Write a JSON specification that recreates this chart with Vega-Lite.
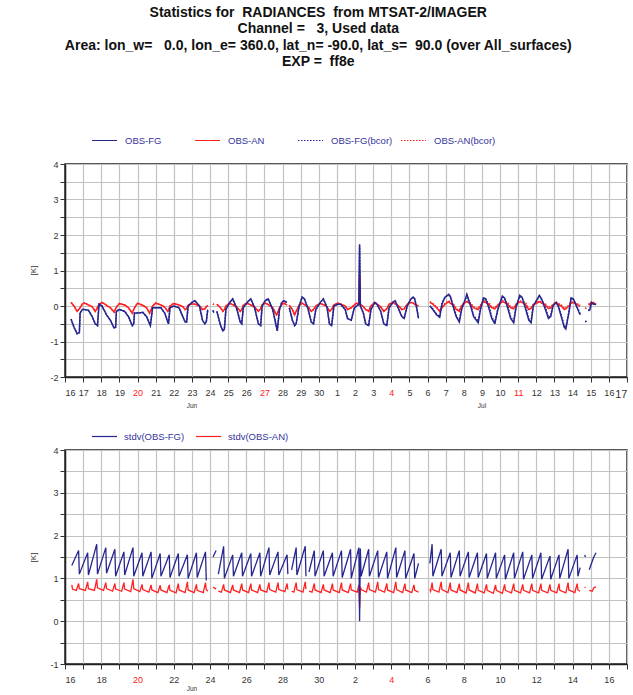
{
"$schema": "https://vega.github.io/schema/vega-lite/v6.json",
"padding": {"left": 28, "top": 6, "right": 0, "bottom": 0},
"background": "white",
"title": {"text": ["Statistics for \u00a0RADIANCES \u00a0from MTSAT-2/IMAGER", "Channel = \u00a0\u00a03, Used data", "Area: lon_w= \u00a0\u00a00.0, lon_e= 360.0, lat_n= -90.0, lat_s= \u00a090.0 (over All_surfaces)", "EXP = \u00a0ff8e"], "anchor": "middle", "font": "Liberation Sans", "fontSize": 14, "fontWeight": "bold", "lineHeight": 16.4, "color": "#111111", "offset": 57, "dx": -10},
"datasets": {
"top": [
{"h":8,"F":-0.37,"A":0.1,"Fb":-0.37,"Ab":0.1},{"h":12,"F":-0.6,"A":0.0,"Fb":-0.6,"Ab":0.0},{"h":16,"F":-0.78,"A":-0.15,"Fb":-0.78,"Ab":-0.15},{"h":19,"F":-0.75,"A":-0.08,"Fb":-0.75,"Ab":-0.08},{"h":20,"F":-0.2,"A":-0.05,"Fb":-0.2,"Ab":-0.05},{"h":23,"F":-0.1,"A":0.06,"Fb":-0.1,"Ab":0.06},
{"h":26,"F":-0.1,"A":0.08,"Fb":-0.1,"Ab":0.08},{"h":31,"F":-0.12,"A":0.03,"Fb":-0.12,"Ab":0.03},{"h":36,"F":-0.3,"A":-0.02,"Fb":-0.3,"Ab":-0.02},{"h":40,"F":-0.5,"A":-0.15,"Fb":-0.5,"Ab":-0.15},{"h":43,"F":-0.55,"A":-0.05,"Fb":-0.55,"Ab":-0.05},{"h":45,"F":0.05,"A":0.05,"Fb":0.05,"Ab":0.05},
{"h":49,"F":0.0,"A":0.1,"Fb":0.0,"Ab":0.1},{"h":55,"F":-0.25,"A":0.02,"Fb":-0.25,"Ab":0.02},{"h":60,"F":-0.4,"A":-0.05,"Fb":-0.4,"Ab":-0.05},{"h":65,"F":-0.62,"A":-0.17,"Fb":-0.62,"Ab":-0.17},{"h":67,"F":-0.6,"A":-0.08,"Fb":-0.6,"Ab":-0.08},{"h":68,"F":-0.15,"A":-0.03,"Fb":-0.15,"Ab":-0.03},
{"h":72,"F":-0.1,"A":0.07,"Fb":-0.1,"Ab":0.07},{"h":79,"F":-0.15,"A":0.03,"Fb":-0.15,"Ab":0.03},{"h":84,"F":-0.3,"A":-0.05,"Fb":-0.3,"Ab":-0.05},{"h":89,"F":-0.55,"A":-0.2,"Fb":-0.55,"Ab":-0.2},{"h":91,"F":-0.5,"A":-0.1,"Fb":-0.5,"Ab":-0.1},{"h":92,"F":-0.2,"A":-0.05,"Fb":-0.2,"Ab":-0.05},
{"h":96,"F":-0.2,"A":0.08,"Fb":-0.2,"Ab":0.08},{"h":103,"F":-0.18,"A":0.02,"Fb":-0.18,"Ab":0.02},{"h":108,"F":-0.3,"A":-0.05,"Fb":-0.3,"Ab":-0.05},{"h":112,"F":-0.5,"A":-0.2,"Fb":-0.5,"Ab":-0.2},{"h":113,"F":-0.55,"A":-0.15,"Fb":-0.55,"Ab":-0.15},{"h":116,"F":-0.05,"A":0.0,"Fb":-0.05,"Ab":0.0},
{"h":120,"F":-0.05,"A":0.08,"Fb":-0.05,"Ab":0.08},{"h":127,"F":-0.05,"A":0.03,"Fb":-0.05,"Ab":0.03},{"h":132,"F":-0.2,"A":-0.03,"Fb":-0.2,"Ab":-0.03},{"h":136,"F":-0.45,"A":-0.15,"Fb":-0.45,"Ab":-0.15},{"h":137,"F":-0.5,"A":-0.12,"Fb":-0.5,"Ab":-0.12},{"h":139,"F":-0.05,"A":0.0,"Fb":-0.05,"Ab":0.0},
{"h":144,"F":0.0,"A":0.07,"Fb":0.0,"Ab":0.07},{"h":151,"F":-0.05,"A":0.03,"Fb":-0.05,"Ab":0.03},{"h":156,"F":-0.3,"A":-0.02,"Fb":-0.3,"Ab":-0.02},{"h":159,"F":-0.45,"A":-0.1,"Fb":-0.45,"Ab":-0.1},{"h":161,"F":-0.45,"A":-0.08,"Fb":-0.45,"Ab":-0.08},{"h":163,"F":0.0,"A":0.02,"Fb":0.0,"Ab":0.02},
{"h":168,"F":0.1,"A":0.06,"Fb":0.1,"Ab":0.06},{"h":172,"F":0.15,"A":0.05,"Fb":0.15,"Ab":0.05},{"h":178,"F":0.0,"A":0.0,"Fb":0.0,"Ab":0.0},{"h":182,"F":-0.4,"A":-0.1,"Fb":-0.4,"Ab":-0.1},{"h":185,"F":-0.5,"A":-0.08,"Fb":-0.5,"Ab":-0.08},{"h":187,"F":-0.45,"A":-0.03,"Fb":-0.45,"Ab":-0.03},{"h":189,"F":-0.1,"A":0.02,"Fb":-0.1,"Ab":0.02},{"h":190,"F":null,"A":null,"Fb":null,"Ab":null},
{"h":196,"F":-0.12,"A":0.06,"Fb":-0.12,"Ab":0.06},{"h":197,"F":-0.19,"A":0.04,"Fb":-0.19,"Ab":0.04},{"h":198,"F":null,"A":null,"Fb":null,"Ab":null},{"h":201,"F":-0.15,"A":0.05,"Fb":-0.15,"Ab":0.05},{"h":206,"F":-0.55,"A":-0.05,"Fb":-0.55,"Ab":-0.05},{"h":209,"F":-0.7,"A":-0.15,"Fb":-0.7,"Ab":-0.15},{"h":211,"F":-0.65,"A":-0.1,"Fb":-0.65,"Ab":-0.1},{"h":213,"F":-0.1,"A":0.0,"Fb":-0.1,"Ab":0.0},
{"h":218,"F":0.1,"A":0.08,"Fb":0.1,"Ab":0.08},{"h":222,"F":0.2,"A":0.04,"Fb":0.2,"Ab":0.04},{"h":227,"F":-0.05,"A":-0.02,"Fb":-0.05,"Ab":-0.02},{"h":232,"F":-0.45,"A":-0.15,"Fb":-0.45,"Ab":-0.15},{"h":234,"F":-0.5,"A":-0.1,"Fb":-0.5,"Ab":-0.1},{"h":236,"F":-0.05,"A":0.02,"Fb":-0.05,"Ab":0.02},
{"h":241,"F":0.1,"A":0.08,"Fb":0.1,"Ab":0.08},{"h":246,"F":0.2,"A":0.03,"Fb":0.2,"Ab":0.03},{"h":251,"F":-0.05,"A":-0.03,"Fb":-0.05,"Ab":-0.03},{"h":256,"F":-0.5,"A":-0.15,"Fb":-0.5,"Ab":-0.15},{"h":259,"F":-0.55,"A":-0.08,"Fb":-0.55,"Ab":-0.08},{"h":261,"F":0.0,"A":0.03,"Fb":0.0,"Ab":0.03},
{"h":265,"F":0.15,"A":0.08,"Fb":0.15,"Ab":0.08},{"h":269,"F":0.2,"A":0.04,"Fb":0.2,"Ab":0.04},{"h":275,"F":-0.1,"A":-0.05,"Fb":-0.1,"Ab":-0.05},{"h":280,"F":-0.6,"A":-0.25,"Fb":-0.6,"Ab":-0.25},{"h":281,"F":-0.7,"A":-0.22,"Fb":-0.7,"Ab":-0.22},{"h":284,"F":-0.1,"A":-0.05,"Fb":-0.1,"Ab":-0.05},{"h":287,"F":0.1,"A":0.05,"Fb":0.1,"Ab":0.05},
{"h":290,"F":0.15,"A":0.08,"Fb":0.15,"Ab":0.08},{"h":294,"F":0.1,"A":0.03,"Fb":0.1,"Ab":0.03},{"h":295,"F":null,"A":null,"Fb":null,"Ab":null},{"h":297,"F":-0.05,"A":0.02,"Fb":-0.05,"Ab":0.02},{"h":301,"F":-0.4,"A":-0.1,"Fb":-0.4,"Ab":-0.1},{"h":304,"F":-0.55,"A":-0.25,"Fb":-0.55,"Ab":-0.25},{"h":306,"F":-0.5,"A":-0.15,"Fb":-0.5,"Ab":-0.15},{"h":310,"F":0.0,"A":0.02,"Fb":0.0,"Ab":0.02},
{"h":314,"F":0.25,"A":0.08,"Fb":0.25,"Ab":0.08},{"h":317,"F":0.2,"A":0.04,"Fb":0.2,"Ab":0.04},{"h":322,"F":-0.1,"A":-0.03,"Fb":-0.1,"Ab":-0.03},{"h":326,"F":-0.45,"A":-0.15,"Fb":-0.45,"Ab":-0.15},{"h":329,"F":-0.5,"A":-0.1,"Fb":-0.5,"Ab":-0.1},{"h":332,"F":-0.1,"A":0.0,"Fb":-0.1,"Ab":0.0},
{"h":338,"F":0.1,"A":0.07,"Fb":0.1,"Ab":0.07},{"h":342,"F":0.2,"A":0.04,"Fb":0.2,"Ab":0.04},{"h":347,"F":-0.05,"A":-0.02,"Fb":-0.05,"Ab":-0.02},{"h":350,"F":-0.5,"A":-0.15,"Fb":-0.5,"Ab":-0.15},{"h":353,"F":-0.55,"A":-0.1,"Fb":-0.55,"Ab":-0.1},{"h":356,"F":0.0,"A":0.03,"Fb":0.0,"Ab":0.03},
{"h":361,"F":0.05,"A":0.08,"Fb":0.05,"Ab":0.08},{"h":365,"F":0.05,"A":0.05,"Fb":0.05,"Ab":0.05},{"h":371,"F":-0.1,"A":0.0,"Fb":-0.1,"Ab":0.0},{"h":374,"F":-0.35,"A":-0.1,"Fb":-0.35,"Ab":-0.1},{"h":379,"F":-0.4,"A":-0.05,"Fb":-0.4,"Ab":-0.05},{"h":383,"F":-0.05,"A":0.03,"Fb":-0.05,"Ab":0.03},
{"h":386,"F":0.0,"A":0.08,"Fb":0.0,"Ab":0.08},{"h":389,"F":0.05,"A":0.05,"Fb":0.05,"Ab":0.05},{"h":390,"F":1.74,"A":0.85,"Fb":1.7,"Ab":0.8},{"h":391,"F":0.0,"A":0.05,"Fb":0.0,"Ab":0.05},{"h":395,"F":-0.2,"A":-0.02,"Fb":-0.2,"Ab":-0.02},{"h":398,"F":-0.5,"A":-0.1,"Fb":-0.5,"Ab":-0.1},{"h":402,"F":-0.55,"A":-0.15,"Fb":-0.55,"Ab":-0.15},{"h":405,"F":-0.1,"A":0.0,"Fb":-0.1,"Ab":0.0},
{"h":410,"F":0.1,"A":0.1,"Fb":0.1,"Ab":0.1},{"h":413,"F":0.05,"A":0.05,"Fb":0.05,"Ab":0.05},{"h":418,"F":-0.15,"A":-0.02,"Fb":-0.15,"Ab":-0.02},{"h":422,"F":-0.5,"A":-0.15,"Fb":-0.5,"Ab":-0.15},{"h":426,"F":-0.55,"A":-0.08,"Fb":-0.55,"Ab":-0.08},{"h":429,"F":-0.05,"A":0.05,"Fb":-0.05,"Ab":0.05},
{"h":434,"F":0.1,"A":0.1,"Fb":0.1,"Ab":0.1},{"h":437,"F":0.15,"A":0.06,"Fb":0.15,"Ab":0.06},{"h":442,"F":-0.1,"A":0.0,"Fb":-0.1,"Ab":0.0},{"h":446,"F":-0.3,"A":-0.1,"Fb":-0.3,"Ab":-0.1},{"h":449,"F":-0.35,"A":-0.08,"Fb":-0.35,"Ab":-0.08},{"h":453,"F":0.0,"A":0.05,"Fb":0.0,"Ab":0.05},
{"h":458,"F":0.2,"A":0.1,"Fb":0.2,"Ab":0.1},{"h":461,"F":0.25,"A":0.08,"Fb":0.25,"Ab":0.08},{"h":463,"F":0.2,"A":0.05,"Fb":0.2,"Ab":0.05},{"h":466,"F":-0.1,"A":0.02,"Fb":-0.1,"Ab":0.02},{"h":468,"F":-0.35,"A":0.0,"Fb":-0.35,"Ab":0.0},{"h":469,"F":null,"A":null,"Fb":null,"Ab":null},
{"h":483,"F":0.0,"A":0.1,"Fb":0.0,"Ab":0.12},{"h":487,"F":-0.1,"A":0.05,"Fb":-0.08,"Ab":0.07},{"h":492,"F":-0.25,"A":-0.05,"Fb":-0.23,"Ab":-0.03},{"h":496,"F":-0.32,"A":-0.15,"Fb":-0.3,"Ab":-0.13},{"h":499,"F":0.05,"A":-0.05,"Fb":0.07,"Ab":-0.03},{"h":503,"F":0.25,"A":0.05,"Fb":0.25,"Ab":0.07},
{"h":508,"F":0.33,"A":0.12,"Fb":0.3,"Ab":0.15},{"h":510,"F":0.28,"A":0.08,"Fb":0.26,"Ab":0.1},{"h":515,"F":-0.1,"A":0.0,"Fb":-0.06,"Ab":0.03},{"h":518,"F":-0.3,"A":-0.1,"Fb":-0.28,"Ab":-0.08},{"h":522,"F":-0.45,"A":-0.15,"Fb":-0.42,"Ab":-0.12},{"h":525,"F":-0.1,"A":0.0,"Fb":-0.08,"Ab":0.02},
{"h":530,"F":0.2,"A":0.1,"Fb":0.18,"Ab":0.13},{"h":532,"F":0.33,"A":0.12,"Fb":0.3,"Ab":0.14},{"h":537,"F":0.0,"A":0.05,"Fb":0.04,"Ab":0.08},{"h":541,"F":-0.3,"A":-0.05,"Fb":-0.27,"Ab":-0.03},{"h":547,"F":-0.47,"A":-0.1,"Fb":-0.43,"Ab":-0.07},{"h":550,"F":-0.1,"A":0.0,"Fb":-0.08,"Ab":0.02},
{"h":554,"F":0.23,"A":0.12,"Fb":0.2,"Ab":0.15},{"h":557,"F":0.2,"A":0.1,"Fb":0.18,"Ab":0.12},{"h":561,"F":-0.05,"A":0.05,"Fb":0.04,"Ab":0.1},{"h":565,"F":-0.35,"A":-0.05,"Fb":-0.32,"Ab":-0.03},{"h":569,"F":-0.5,"A":-0.08,"Fb":-0.45,"Ab":-0.05},{"h":573,"F":-0.1,"A":0.02,"Fb":-0.08,"Ab":0.04},
{"h":579,"F":0.28,"A":0.12,"Fb":0.25,"Ab":0.15},{"h":582,"F":0.22,"A":0.1,"Fb":0.2,"Ab":0.12},{"h":586,"F":-0.05,"A":0.05,"Fb":0.04,"Ab":0.1},{"h":590,"F":-0.35,"A":-0.05,"Fb":-0.32,"Ab":-0.03},{"h":594,"F":-0.47,"A":-0.08,"Fb":-0.43,"Ab":-0.05},{"h":597,"F":-0.05,"A":0.03,"Fb":-0.03,"Ab":0.05},
{"h":602,"F":0.3,"A":0.12,"Fb":0.27,"Ab":0.15},{"h":605,"F":0.25,"A":0.1,"Fb":0.23,"Ab":0.12},{"h":610,"F":-0.1,"A":0.03,"Fb":0.0,"Ab":0.08},{"h":614,"F":-0.4,"A":-0.1,"Fb":-0.37,"Ab":-0.08},{"h":617,"F":-0.47,"A":-0.07,"Fb":-0.43,"Ab":-0.04},{"h":620,"F":0.0,"A":0.03,"Fb":0.02,"Ab":0.05},
{"h":628,"F":0.3,"A":0.12,"Fb":0.27,"Ab":0.15},{"h":631,"F":0.2,"A":0.08,"Fb":0.18,"Ab":0.1},{"h":636,"F":-0.1,"A":0.02,"Fb":-0.03,"Ab":0.06},{"h":640,"F":-0.35,"A":-0.07,"Fb":-0.32,"Ab":-0.05},{"h":643,"F":-0.3,"A":-0.05,"Fb":-0.27,"Ab":-0.02},{"h":646,"F":0.0,"A":0.03,"Fb":0.02,"Ab":0.05},
{"h":650,"F":0.1,"A":0.1,"Fb":0.1,"Ab":0.12},{"h":653,"F":0.0,"A":0.05,"Fb":0.02,"Ab":0.07},{"h":657,"F":-0.3,"A":0.0,"Fb":-0.26,"Ab":0.03},{"h":661,"F":-0.6,"A":-0.1,"Fb":-0.57,"Ab":-0.08},{"h":663,"F":-0.65,"A":-0.08,"Fb":-0.6,"Ab":-0.05},{"h":667,"F":-0.2,"A":0.0,"Fb":-0.18,"Ab":0.02},{"h":670,"F":0.23,"A":0.08,"Fb":0.2,"Ab":0.1},
{"h":673,"F":0.2,"A":0.1,"Fb":0.18,"Ab":0.12},{"h":676,"F":0.05,"A":0.06,"Fb":0.07,"Ab":0.08},{"h":682,"F":-0.25,"A":0.0,"Fb":-0.22,"Ab":0.02},{"h":683,"F":null,"A":null,"Fb":null,"Ab":null},{"h":689,"F":-0.42,"A":-0.07,"Fb":-0.42,"Ab":-0.07},{"h":690,"F":-0.45,"A":-0.05,"Fb":-0.45,"Ab":-0.05},{"h":691,"F":null,"A":null,"Fb":null,"Ab":null},{"h":693,"F":-0.14,"A":0.05,"Fb":-0.12,"Ab":0.07},{"h":695,"F":-0.1,"A":0.03,"Fb":-0.08,"Ab":0.05},{"h":697,"F":0.1,"A":0.1,"Fb":0.08,"Ab":0.12},{"h":700,"F":0.05,"A":0.08,"Fb":0.05,"Ab":0.1},{"h":703,"F":0.05,"A":0.03,"Fb":0.05,"Ab":0.05}
],
"bot": [
{"h":9,"F":1.3,"A":0.85},{"h":10,"A":0.75},{"h":15,"A":0.72},
{"h":18,"F":1.65,"A":0.88},{"h":19,"F":1.1,"A":0.76},{"h":27,"A":0.72},
{"h":30,"F":1.6,"A":0.92},{"h":31,"F":1.08,"A":0.76},{"h":39,"A":0.72},
{"h":42,"F":1.8,"A":0.98},{"h":43,"F":1.1,"A":0.78},{"h":51,"A":0.72},
{"h":54,"F":1.72,"A":0.9},{"h":55,"F":1.12,"A":0.76},{"h":63,"A":0.7},
{"h":66,"F":1.68,"A":0.88},{"h":67,"F":1.05,"A":0.75},{"h":75,"A":0.7},
{"h":78,"F":1.62,"A":0.9},{"h":79,"F":1.08,"A":0.75},{"h":87,"A":0.69},
{"h":90,"F":1.72,"A":0.98},{"h":91,"F":1.05,"A":0.76},{"h":99,"A":0.69},
{"h":102,"F":1.6,"A":0.86},{"h":103,"F":1.05,"A":0.74},{"h":111,"A":0.68},
{"h":114,"F":1.62,"A":0.85},{"h":115,"F":1.0,"A":0.73},{"h":123,"A":0.67},
{"h":126,"F":1.58,"A":0.84},{"h":127,"F":1.05,"A":0.73},{"h":135,"A":0.67},
{"h":138,"F":1.55,"A":0.85},{"h":139,"F":1.02,"A":0.72},{"h":147,"A":0.66},
{"h":150,"F":1.58,"A":0.88},{"h":151,"F":1.05,"A":0.73},{"h":159,"A":0.67},
{"h":162,"F":1.55,"A":0.92},{"h":163,"F":1.0,"A":0.73},{"h":171,"A":0.67},
{"h":174,"F":1.6,"A":0.86},{"h":175,"F":1.02,"A":0.72},{"h":183,"A":0.67},
{"h":186,"F":1.62,"A":0.9},{"h":187,"F":0.95,"A":0.74},{"h":189,"A":0.7},
{"h":190,"F":null,"A":null},
{"h":196,"F":1.5,"A":0.8},{"h":200,"F":1.65,"A":0.75},{"h":201,"F":null,"A":null},{"h":203,"F":1.1,"A":0.7},{"h":207,"A":0.68},
{"h":210,"F":1.75,"A":0.86},{"h":211,"F":1.0,"A":0.73},{"h":219,"A":0.67},
{"h":222,"F":1.55,"A":0.85},{"h":223,"F":1.05,"A":0.73},{"h":231,"A":0.67},
{"h":234,"F":1.6,"A":0.88},{"h":235,"F":1.05,"A":0.73},{"h":243,"A":0.67},
{"h":246,"F":1.58,"A":0.88},{"h":247,"F":1.05,"A":0.73},{"h":255,"A":0.67},
{"h":258,"F":1.6,"A":0.86},{"h":259,"F":1.05,"A":0.73},{"h":267,"A":0.68},
{"h":270,"F":1.72,"A":0.9},{"h":271,"F":1.08,"A":0.74},{"h":279,"A":0.68},
{"h":282,"F":1.62,"A":0.9},{"h":283,"F":1.08,"A":0.74},{"h":291,"A":0.69},
{"h":294,"F":1.55,"A":0.88},{"h":295,"F":1.1,"A":0.74},{"h":297,"F":null,"A":null},{"h":300,"F":1.2,"A":0.7},{"h":303,"A":0.68},
{"h":306,"F":1.72,"A":0.9},{"h":307,"F":1.08,"A":0.74},{"h":315,"A":0.68},
{"h":318,"F":1.75,"A":0.92},{"h":319,"F":1.05,"A":0.75},{"h":321,"F":null,"A":null},{"h":323,"F":1.15,"A":0.7},{"h":327,"A":0.68},
{"h":330,"F":1.65,"A":0.88},{"h":331,"F":1.05,"A":0.73},{"h":339,"A":0.67},
{"h":342,"F":1.65,"A":0.86},{"h":343,"F":1.05,"A":0.73},{"h":351,"A":0.67},
{"h":354,"F":1.6,"A":0.88},{"h":355,"F":1.05,"A":0.73},{"h":363,"A":0.67},
{"h":366,"F":1.65,"A":0.9},{"h":367,"F":1.02,"A":0.73},{"h":375,"A":0.67},
{"h":378,"F":1.68,"A":0.88},{"h":379,"F":1.0,"A":0.73},{"h":387,"A":0.68},
{"h":389,"F":1.72,"A":0.85},{"h":390,"F":0.0,"A":0.3},{"h":391,"F":1.7,"A":0.8},{"h":392,"F":1.05,"A":0.74},{"h":399,"A":0.68},
{"h":402,"F":1.68,"A":0.9},{"h":403,"F":1.05,"A":0.74},{"h":411,"A":0.68},
{"h":414,"F":1.65,"A":0.92},{"h":415,"F":1.02,"A":0.74},{"h":423,"A":0.68},
{"h":426,"F":1.62,"A":0.88},{"h":427,"F":1.0,"A":0.73},{"h":435,"A":0.67},
{"h":438,"F":1.72,"A":0.92},{"h":439,"F":1.02,"A":0.74},{"h":447,"A":0.67},
{"h":450,"F":1.65,"A":0.88},{"h":451,"F":1.0,"A":0.73},{"h":459,"A":0.67},
{"h":462,"F":1.58,"A":0.85},{"h":463,"F":1.0,"A":0.72},{"h":468,"F":1.35,"A":0.68},{"h":469,"F":null,"A":null},
{"h":483,"F":1.35,"A":0.75},{"h":484,"A":0.7},
{"h":486,"F":1.8,"A":0.9},{"h":487,"F":1.05,"A":0.74},{"h":495,"A":0.68},
{"h":498,"F":1.68,"A":0.92},{"h":499,"F":1.05,"A":0.74},{"h":507,"A":0.67},
{"h":510,"F":1.6,"A":0.9},{"h":511,"F":1.02,"A":0.73},{"h":519,"A":0.67},
{"h":522,"F":1.65,"A":0.88},{"h":523,"F":1.05,"A":0.73},{"h":531,"A":0.66},
{"h":534,"F":1.62,"A":0.9},{"h":535,"F":1.02,"A":0.73},{"h":543,"A":0.66},
{"h":546,"F":1.6,"A":0.88},{"h":547,"F":1.02,"A":0.72},{"h":555,"A":0.66},
{"h":558,"F":1.58,"A":0.86},{"h":559,"F":1.0,"A":0.72},{"h":567,"A":0.65},
{"h":570,"F":1.6,"A":0.85},{"h":571,"F":1.0,"A":0.72},{"h":579,"A":0.65},
{"h":582,"F":1.55,"A":0.86},{"h":583,"F":0.98,"A":0.72},{"h":591,"A":0.66},
{"h":594,"F":1.6,"A":0.88},{"h":595,"F":1.0,"A":0.72},{"h":603,"A":0.66},
{"h":606,"F":1.62,"A":0.86},{"h":607,"F":0.98,"A":0.72},{"h":615,"A":0.66},
{"h":618,"F":1.55,"A":0.88},{"h":619,"F":1.0,"A":0.72},{"h":627,"A":0.66},
{"h":630,"F":1.6,"A":0.88},{"h":631,"F":0.98,"A":0.72},{"h":639,"A":0.66},
{"h":642,"F":1.52,"A":0.86},{"h":643,"F":0.98,"A":0.72},{"h":651,"A":0.66},
{"h":654,"F":1.55,"A":0.88},{"h":655,"F":1.0,"A":0.72},{"h":663,"A":0.66},
{"h":666,"F":1.68,"A":0.9},{"h":667,"F":1.0,"A":0.73},{"h":675,"A":0.67},
{"h":678,"F":1.55,"A":0.88},{"h":679,"F":1.05,"A":0.73},{"h":682,"F":1.25,"A":0.7},{"h":683,"F":null,"A":null},
{"h":688,"F":1.55,"A":0.8},{"h":689,"F":1.5,"A":0.78},{"h":690,"F":null,"A":null},
{"h":694,"F":1.2,"A":0.72},{"h":698,"F":1.4,"A":0.7},{"h":700,"F":1.5,"A":0.78},{"h":703,"F":1.6,"A":0.8}
]
},
"vconcat": [
{
"width": 562, "height": 213,
"encoding": {
"x": {"field": "h", "type": "quantitative", "title": null, "scale": {"domain": [0, 744], "nice": false, "zero": false},
 "axis": {"values": [0,24,48,72,96,120,144,168,192,216,240,264,288,312,336,360,384,408,432,456,480,504,528,552,576,600,624,648,672,696,720,744],
  "labelExpr": "datum.value/24 <= 14 ? '' + (datum.value/24 + 16) : '' + (datum.value/24 - 14)",
  "labelColor": {"condition": {"test": "datum.value == 96 || datum.value == 264 || datum.value == 432 || datum.value == 600", "value": "#ff2020"}, "value": "#333333"},
  "labelFontSize": {"condition": {"test": "datum.value == 744", "value": 11}, "value": 9},
  "grid": true, "labelPadding": 6}},
"y": {"field": "v", "type": "quantitative", "title": "[K]", "scale": {"domain": [-2, 4], "nice": false, "zero": false},
 "axis": {"values": [-2,-1.5,-1,-0.5,0,0.5,1,1.5,2,2.5,3,3.5,4], "labelExpr": "datum.value % 1 == 0 ? '' + datum.value : ''", "grid": true, "labelPadding": 2, "titleX": -32, "titleY": 106, "titleAlign": "center", "titleBaseline": "middle"}}
},
"layer": [
{"data": {"name": "top"},
 "transform": [{"fold": ["Fb", "Ab", "A", "F"], "as": ["s", "v"]}, {"filter": "isDefined(datum.v)"}],
 "mark": {"type": "line", "strokeWidth": 1.5, "clip": true, "invalid": "break-paths-filter-domains"},
 "encoding": {
  "color": {"field": "s", "type": "nominal", "scale": {"domain": ["F", "A", "Fb", "Ab"], "range": ["#262690", "#ff2020", "#262690", "#ff2020"]},
   "legend": {"title": null, "orient": "none", "legendX": 26, "legendY": -37, "direction": "horizontal", "columns": 4, "gridAlign": "all", "columnPadding": 5, "symbolType": "stroke", "symbolSize": 625, "symbolStrokeWidth": 1.2, "labelOffset": 7, "labelFontSize": 9.5, "labelFont": "Liberation Sans", "labelColor": "#34349a",
    "labelExpr": "datum.label == 'F' ? 'OBS-FG' : datum.label == 'A' ? 'OBS-AN' : datum.label == 'Fb' ? 'OBS-FG(bcor)' : 'OBS-AN(bcor)'",
    "encode": {"symbols": {"update": {"strokeDash": {"signal": "(datum.value == 'Fb' || datum.value == 'Ab') ? [1.5, 1.5] : [1, 0]"}}}}}},
  "strokeDash": {"field": "s", "type": "nominal", "scale": {"domain": ["F", "A", "Fb", "Ab"], "range": [[1, 0], [1, 0], [1.5, 1.5], [1.5, 1.5]]}, "legend": null}
 }},
{"data": {"values": [{"h": 168, "v": -2.83, "t": "Jun"}, {"h": 552, "v": -2.83, "t": "Jul"}]},
 "mark": {"type": "text", "fontSize": 6.5, "font": "Liberation Sans", "color": "#333333", "baseline": "middle"},
 "encoding": {"text": {"field": "t"}}}
]
},
{
"width": 562, "height": 214,
"encoding": {
"x": {"field": "h", "type": "quantitative", "title": null, "scale": {"domain": [0, 744], "nice": false, "zero": false},
 "axis": {"values": [0,24,48,72,96,120,144,168,192,216,240,264,288,312,336,360,384,408,432,456,480,504,528,552,576,600,624,648,672,696,720,744],
  "labelExpr": "(datum.value/24) % 2 == 1 ? '' : (datum.value/24 <= 14 ? '' + (datum.value/24 + 16) : '' + (datum.value/24 - 14))",
  "labelColor": {"condition": {"test": "datum.value == 96 || datum.value == 432", "value": "#ff2020"}, "value": "#333333"},
  "grid": true, "labelPadding": 6}},
"y": {"field": "v", "type": "quantitative", "title": "[K]", "scale": {"domain": [-1, 4], "nice": false, "zero": false},
 "axis": {"values": [-1,-0.5,0,0.5,1,1.5,2,2.5,3,3.5,4], "labelExpr": "datum.value % 1 == 0 ? '' + datum.value : ''", "grid": true, "labelPadding": 2, "titleX": -32, "titleY": 107, "titleAlign": "center", "titleBaseline": "middle"}}
},
"layer": [
{"data": {"name": "bot"},
 "transform": [{"fold": ["A", "F"], "as": ["s", "v"]}, {"filter": "isDefined(datum.v)"}],
 "mark": {"type": "line", "strokeWidth": 1.3, "clip": true, "invalid": "break-paths-filter-domains"},
 "encoding": {
  "color": {"field": "s", "type": "nominal", "scale": {"domain": ["F", "A"], "range": ["#262690", "#ff2020"]},
   "legend": {"title": null, "orient": "none", "legendX": 26, "legendY": -27, "direction": "horizontal", "columns": 2, "gridAlign": "all", "columnPadding": 8, "symbolType": "stroke", "symbolSize": 625, "symbolStrokeWidth": 1.2, "labelOffset": 6, "labelFontSize": 9.5, "labelFont": "Liberation Sans", "labelColor": "#34349a",
    "labelExpr": "datum.label == 'F' ? 'stdv(OBS-FG)' : 'stdv(OBS-AN)'"}}
 }},
{"data": {"values": [{"h": 168, "v": -1.58, "t": "Jun"}]},
 "mark": {"type": "text", "fontSize": 6.5, "font": "Liberation Sans", "color": "#333333", "baseline": "middle"},
 "encoding": {"text": {"field": "t"}}}
]
}
],
"spacing": 11,
"resolve": {"scale": {"x": "independent", "y": "independent", "color": "independent", "strokeDash": "independent"}},
"config": {
"font": "Liberation Sans",
"view": {"stroke": "#222222", "strokeWidth": 1.5},
"axis": {"labelFont": "Liberation Sans", "labelColor": "#333333", "labelFontSize": 9, "tickColor": "#333333", "tickSize": 5, "domainColor": "#222222", "domainWidth": 1.5, "gridColor": "#c2c2c2", "gridWidth": 1.2, "titleFont": "Liberation Sans", "titleColor": "#333333", "titleFontWeight": "normal", "titleFontSize": 8, "labelOverlap": false, "labelBound": false}
}
}
